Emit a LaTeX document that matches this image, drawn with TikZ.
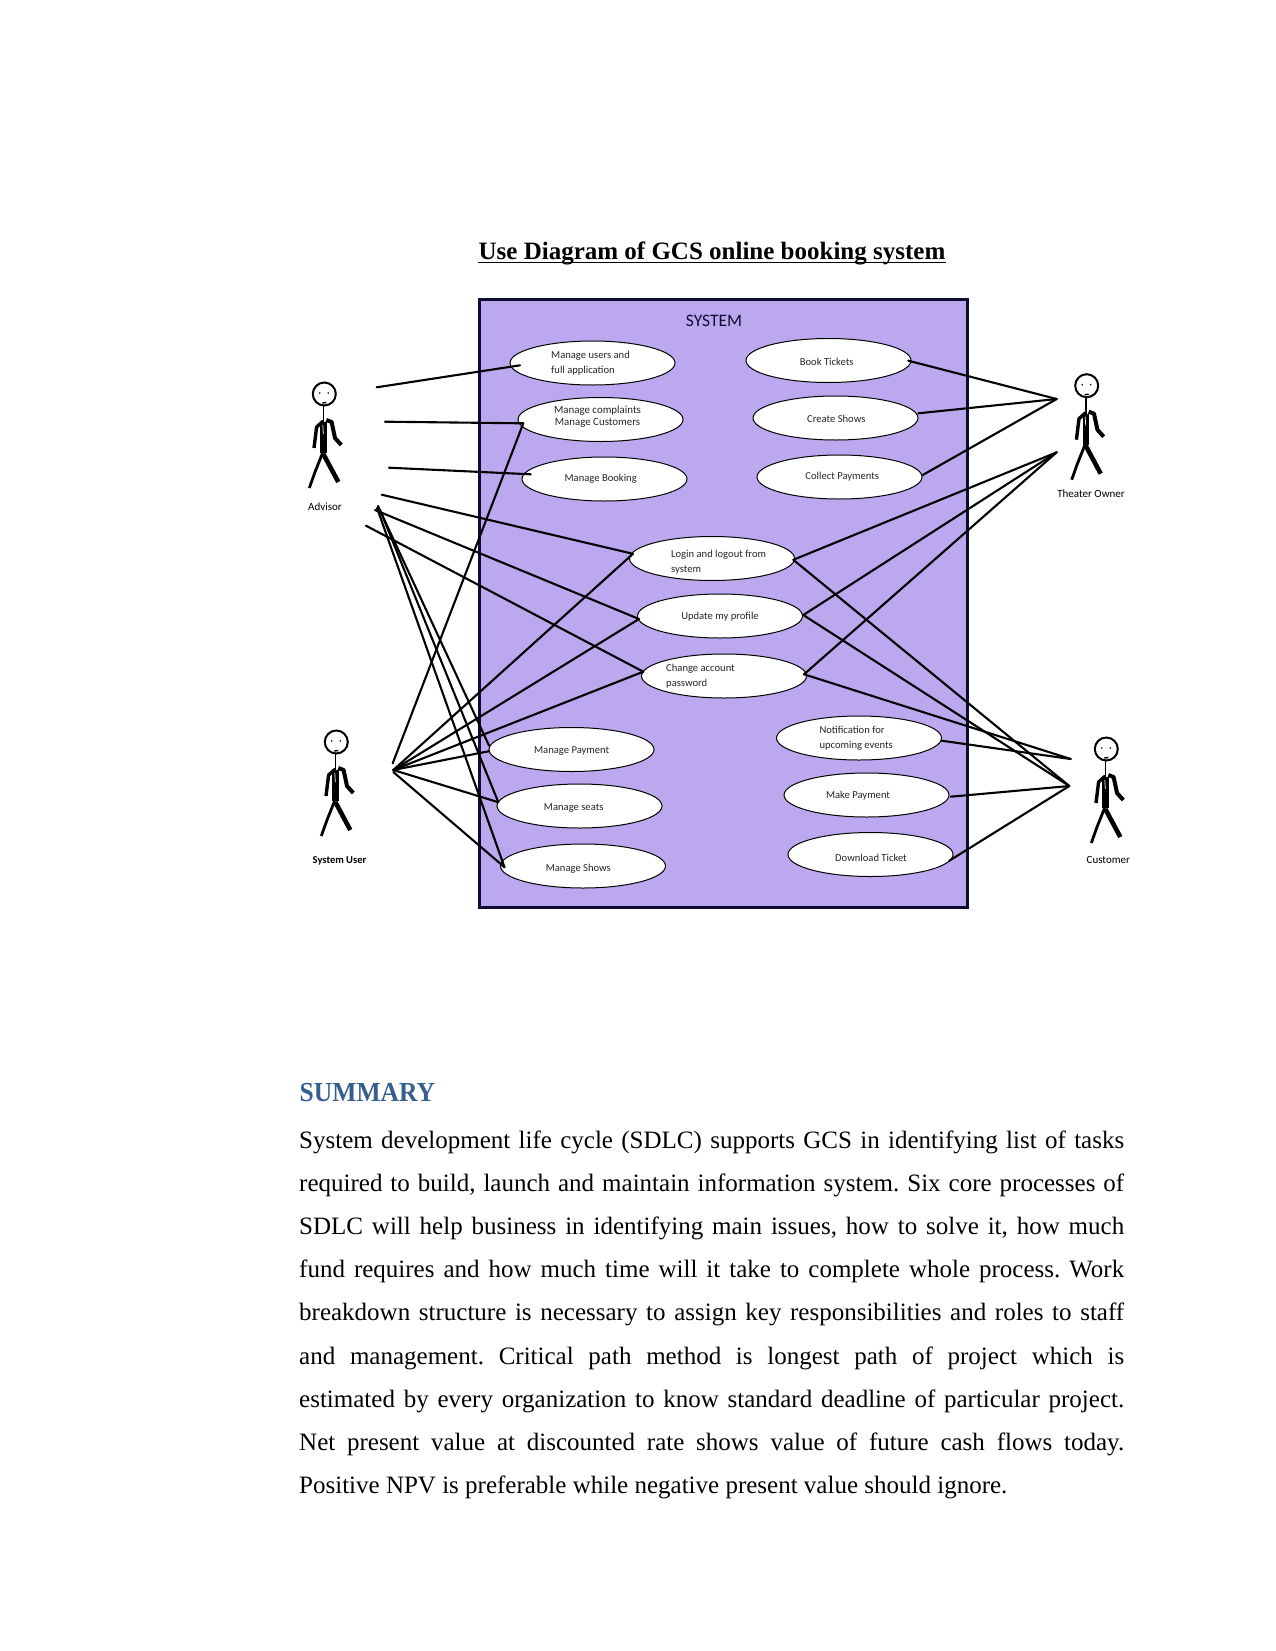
\documentclass[tikz,border=0pt]{standalone}
\usepackage{fontspec}
\setmainfont{Liberation Serif}
\newfontfamily\diagfont{Carlito}
\newfontfamily\headfont{Liberation Serif}[FakeStretch=0.93]
\usetikzlibrary{shapes.geometric}
\definecolor{sysfill}{HTML}{BCA8EE}
\definecolor{sysedge}{HTML}{0E0C30}
\definecolor{headblue}{HTML}{365F91}
\tikzset{
  usecase/.style={ellipse,draw=black,line width=1pt,fill=white,minimum width=165pt,minimum height=44pt,inner sep=0pt},
  casetext/.style={font=\diagfont\fontsize{10.6}{15}\selectfont,inner sep=0pt,text=black!85},
  actortext/.style={font=\diagfont\fontsize{11}{13}\selectfont,inner sep=0pt,text=black},
  link/.style={line width=2.1pt,black,line cap=round},
  stickman/.pic={
    \draw[line width=2pt,black] (0,0) circle[radius=11.5];
    \fill (-4.5,-1) circle[radius=0.9] (4,-1) circle[radius=0.9];
    \draw[line width=1.4pt] (-2,9) -- (2,8.5);
    \draw[line width=1.6pt] (-1,11.5) -- (-1,30);
    \fill (-3.9,28) -- (2.6,28) -- (2.6,59) -- (-3.9,59) -- cycle;
    \draw[line width=3.4pt,line join=round] (-1,27) -- (-7.7,33) -- (-10.3,54);
    \draw[line width=4pt,line join=round] (2,26) -- (7.3,28) -- (10.7,44) -- (17,51);
    \draw[line width=2.8pt] (-1.7,59) -- (-9.3,78) -- (-15,94);
    \draw[line width=4.6pt] (-1,60) -- (14,88);
    \draw[white,line width=0.7pt] (-1.5,31) -- (-1,40);
  }
}
\begin{document}
\begin{tikzpicture}[x=1pt,y=-1pt]
\useasboundingbox (0,0) rectangle (1275,1651);

% page heading with its rule
\node[anchor=base,inner sep=0pt,font=\bfseries\fontsize{25}{30}\selectfont] (title) at (712,259) {Use Diagram of GCS online booking system};
\draw[line width=1.7pt] ([yshift=-3.5pt]title.base west) -- ([yshift=-3.5pt]title.base east);

% system boundary
\node[draw=sysedge,fill=sysfill,line width=3pt,minimum width=488pt,minimum height=608pt,inner sep=0pt] (system) at (723,603) {};
\node[font=\diagfont\fontsize{17.5}{20}\selectfont,text=sysedge,inner sep=0pt] (systemname) at (714,320.5) {SYSTEM};

% use cases
\node[usecase] (users) at (592.5,363) {};
\node[usecase] (complaints) at (600.5,419.5) {};
\node[usecase] (booking) at (604.5,479) {};
\node[usecase] (login) at (712,558.5) {};
\node[usecase] (profile) at (720,616) {};
\node[usecase] (password) at (724,676) {};
\node[usecase] (payment) at (571.5,749.5) {};
\node[usecase] (seats) at (579.5,806) {};
\node[usecase] (shows) at (583,866) {};
\node[usecase] (tickets) at (828.5,360.5) {};
\node[usecase] (create) at (835.5,418) {};
\node[usecase] (collect) at (839.5,477) {};
\node[usecase] (notify) at (859,738) {};
\node[usecase] (makepay) at (866.5,795) {};
\node[usecase] (download) at (870.5,854.5) {};

% use case captions
\node[casetext,align=left,anchor=west] (tusers) at (551,363.5) {Manage users and\\full application};
\node[casetext,align=center,font=\diagfont\fontsize{10.9}{12}\selectfont] (tcomplaints) at (597.5,416.5) {Manage complaints\\Manage Customers};
\node[casetext] (tbooking) at (600.7,478.5) {Manage Booking};
\node[casetext,align=left,anchor=west] (tlogin) at (671,562.5) {Login and logout from\\system};
\node[casetext] (tprofile) at (720,617) {Update my profile};
\node[casetext,align=left,anchor=west] (tpassword) at (666,676.5) {Change account\\password};
\node[casetext] (tpayment) at (571.7,751.5) {Manage Payment};
\node[casetext] (tseats) at (573.7,808) {Manage seats};
\node[casetext] (tshows) at (578.3,868.5) {Manage Shows};
\node[casetext] (ttickets) at (826.7,361.5) {Book Tickets};
\node[casetext] (tcreate) at (836.3,419) {Create Shows};
\node[casetext] (tcollect) at (842.3,476.5) {Collect Payments};
\node[casetext,align=left,anchor=west] (tnotify) at (819.3,738.5) {Notification for\\upcoming events};
\node[casetext] (tmakepay) at (858,796) {Make Payment};
\node[casetext] (tdownload) at (871,858) {Download Ticket};

% actors
\pic at (324.3,394) {stickman};
\pic at (336.3,742) {stickman};
\pic at (1086.7,385.7) {stickman};
\pic at (1106.3,749) {stickman};
\node[actortext] (advisor) at (325,507) {Advisor};
\node[actortext,font=\diagfont\bfseries\fontsize{10.5}{13}\selectfont] (sysuser) at (339.5,861) {System User};
\node[actortext,font=\diagfont\fontsize{11}{13}\selectfont] (owner) at (1091,493.5) {Theater Owner};
\node[actortext] (customer) at (1108.3,860) {Customer};

% free ends of the associations, next to each actor
\coordinate (advA) at (376.7,387.3);
\coordinate (advB) at (385,421.7);
\coordinate (advC) at (389,467.7);
\coordinate (advD) at (381.7,494.7);
\coordinate (advE) at (375,510);
\coordinate (advF) at (366,525.7);
\coordinate (advG) at (378,506);
\coordinate (advH) at (380,510);
\coordinate (advI) at (377,508);
\coordinate (sysA) at (392.7,763.3);
\coordinate (sysB) at (393.3,770);
\coordinate (sysC) at (393.3,772);
\coordinate (ownA) at (1056.7,399);
\coordinate (ownB) at (1056.7,452.3);
\coordinate (cusA) at (1070.7,759);
\coordinate (cusB) at (1069.3,786);

% advisor associations
\draw[link] (advA) -- ([shift={(-72.5,2.3)}]users.center);
\draw[link] (advB) -- ([shift={(-77.2,3.8)}]complaints.center);
\draw[link] (advC) -- ([shift={(-73.8,-4.7)}]booking.center);
\draw[link] (advD) -- ([shift={(-79,-4.7)}]login.center);
\draw[link] (advE) -- ([shift={(-81,3)}]profile.center);
\draw[link] (advF) -- ([shift={(-80.7,-4.3)}]password.center);
\draw[link] (advG) -- ([shift={(-82.5,-4)}]payment.center);
\draw[link] (advH) -- ([shift={(-81.2,-3.8)}]seats.center);
\draw[link] (advI) -- ([shift={(-78.5,1.2)}]shows.center);

% system user associations
\draw[link] (sysA) -- ([shift={(-77.2,3.8)}]complaints.center);
\draw[link] (sysB) -- ([shift={(-79,-4.7)}]login.center);
\draw[link] (sysB) -- ([shift={(-81,3)}]profile.center);
\draw[link] (sysB) -- ([shift={(-80.7,-4.3)}]password.center);
\draw[link] (sysB) -- ([shift={(-82.5,1.7)}]payment.center);
\draw[link] (sysB) -- ([shift={(-81.2,-3.8)}]seats.center);
\draw[link] (sysC) -- ([shift={(-78.5,1.2)}]shows.center);

% theater owner associations
\draw[link] (ownA) -- ([shift={(79.8,0.2)}]tickets.center);
\draw[link] (ownA) -- ([shift={(82.8,-4.7)}]create.center);
\draw[link] (ownA) -- ([shift={(83.2,-2)}]collect.center);
\draw[link] (ownB) -- ([shift={(81.3,1.3)}]login.center);
\draw[link] (ownB) -- ([shift={(83.3,-1)}]profile.center);
\draw[link] (ownB) -- ([shift={(80,-1.7)}]password.center);

% customer associations
\draw[link] (cusA) -- ([shift={(80,-1.7)}]password.center);
\draw[link] (cusA) -- ([shift={(82.7,2.7)}]notify.center);
\draw[link] (cusB) -- ([shift={(81.3,1.3)}]login.center);
\draw[link] (cusB) -- ([shift={(83.3,-1)}]profile.center);
\draw[link] (cusB) -- ([shift={(84.2,1.7)}]makepay.center);
\draw[link] (cusB) -- ([shift={(78.8,6.2)}]download.center);

% summary section
\node[anchor=base west,inner sep=0pt,font=\headfont\bfseries\fontsize{27.5}{34}\selectfont,text=headblue] (summaryhead) at (299.5,1101) {SUMMARY};
\node[anchor=base west,inner sep=0pt,text width=825pt,align=justify,font=\fontsize{25}{43.2}\selectfont] (summarybody) at (299,1148) {\frenchspacing
System development life cycle (SDLC) supports GCS in identifying list of tasks\linebreak
required to build, launch and maintain information system. Six core processes of\linebreak
SDLC will help business in identifying main issues, how to solve it, how much\linebreak
fund requires and how much time will it take to complete whole process. Work\linebreak
breakdown structure is necessary to assign key responsibilities and roles to staff\linebreak
and management. Critical path method is longest path of project which is\linebreak
estimated by every organization to know standard deadline of particular project.\linebreak
Net present value at discounted rate shows value of future cash flows today.\linebreak
Positive NPV is preferable while negative present value should ignore.};
\end{tikzpicture}
\end{document}
